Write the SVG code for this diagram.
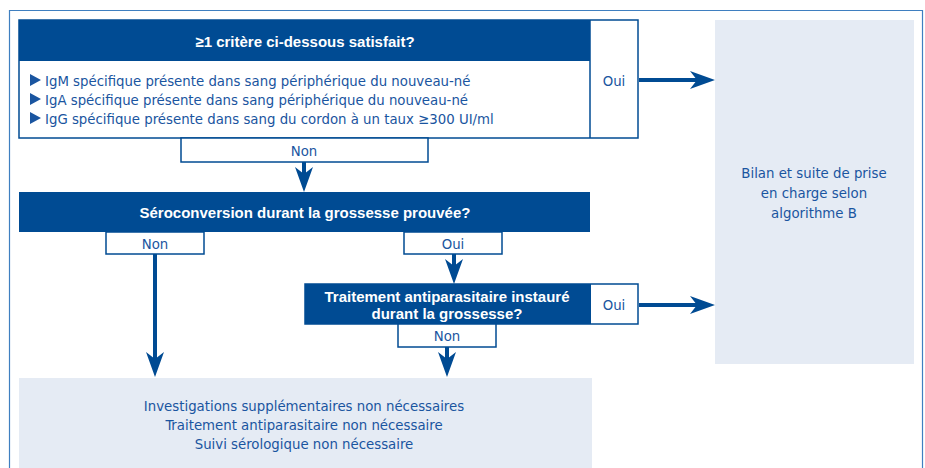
<svg xmlns="http://www.w3.org/2000/svg" width="925" height="468" viewBox="0 0 925 468">
<defs>
<style>
.frame{fill:none;stroke:#3f7fc0;stroke-width:1.2}
.hdr{fill:#004b93}
.box{fill:#fff;stroke:#004b93;stroke-width:1.5}
.light{fill:#e5ebf4}
.t{font-family:"Liberation Sans Narrow","DejaVu Sans Condensed","Liberation Sans",sans-serif;font-size:14.8px;fill:#1a55a0}
.tb{font-family:"Liberation Sans",sans-serif;font-size:15px;font-weight:bold;fill:#fff}
.c{text-anchor:middle}
.conn{stroke:#004b93;stroke-width:4;fill:none}
</style>
<marker id="ah" viewBox="0 0 25 18" refX="10" refY="9" markerWidth="25" markerHeight="18" markerUnits="userSpaceOnUse" orient="auto">
<path d="M0,0 L25,9 L0,18 L7,9 Z" fill="#004b93"/>
</marker>
</defs>
<rect x="0" y="0" width="925" height="468" fill="#fff"/>
<path class="frame" d="M9.5,470 V10.5 H922.5 V470"/>

<g id="n1">
<rect class="box" x="19" y="20" width="619" height="118"/>
<rect class="hdr" x="19" y="20" width="571" height="41"/>
<line x1="590" y1="20" x2="590" y2="138" stroke="#004b93" stroke-width="1.5"/>
<text class="tb c" x="305" y="47">≥1 critère ci-dessous satisfait?</text>
<path d="M30,74 L41,80 L30,86 Z M30,93 L41,99 L30,105 Z M30,112 L41,118 L30,124 Z" fill="#1a55a0"/>
<text class="t" x="45" y="86">IgM spécifique présente dans sang périphérique du nouveau-né</text>
<text class="t" x="45" y="105">IgA spécifique présente dans sang périphérique du nouveau-né</text>
<text class="t" x="45" y="124">IgG spécifique présente dans sang du cordon à un taux ≥300 UI/ml</text>
<text class="t c" x="614" y="86">Oui</text>
</g>

<g id="n1non">
<rect class="box" x="181" y="138" width="247" height="24"/>
<text class="t c" x="304" y="156">Non</text>
</g>

<g id="n2">
<rect class="hdr" x="19" y="192" width="571" height="40"/>
<text class="tb c" x="305" y="218">Séroconversion durant la grossesse prouvée?</text>
</g>

<g id="n2non">
<rect class="box" x="106" y="232" width="98" height="22"/>
<text class="t c" x="155" y="249">Non</text>
</g>

<g id="n2oui">
<rect class="box" x="404" y="232" width="98" height="22"/>
<text class="t c" x="453" y="249">Oui</text>
</g>

<g id="n3">
<rect class="box" x="305" y="284" width="333" height="40"/>
<rect class="hdr" x="305" y="284" width="286" height="40"/>
<text class="tb c" x="447" y="302">Traitement antiparasitaire instauré</text>
<text class="tb c" x="447" y="319">durant la grossesse?</text>
<text class="t c" x="614" y="310">Oui</text>
</g>

<g id="n3non">
<rect class="box" x="398" y="324" width="98" height="23"/>
<text class="t c" x="447" y="341">Non</text>
</g>

<g id="n4">
<rect class="light" x="19" y="378" width="573" height="95"/>
<text class="t c" x="304" y="411">Investigations supplémentaires non nécessaires</text>
<text class="t c" x="304" y="430">Traitement antiparasitaire non nécessaire</text>
<text class="t c" x="304" y="449">Suivi sérologique non nécessaire</text>
</g>

<g id="n5">
<rect class="light" x="715" y="20" width="199" height="344"/>
<text class="t c" x="814" y="178">Bilan et suite de prise</text>
<text class="t c" x="814" y="198">en charge selon</text>
<text class="t c" x="814" y="218">algorithme B</text>
</g>

<g id="connectors">
<line class="conn" x1="639" y1="80" x2="700" y2="80" marker-end="url(#ah)"/>
<line class="conn" x1="639" y1="305" x2="700" y2="305" marker-end="url(#ah)"/>
<line class="conn" x1="304" y1="162" x2="304" y2="177" marker-end="url(#ah)"/>
<line class="conn" x1="155" y1="254" x2="155" y2="362" marker-end="url(#ah)"/>
<line class="conn" x1="454" y1="254" x2="454" y2="269" marker-end="url(#ah)"/>
<line class="conn" x1="447" y1="347" x2="447" y2="362" marker-end="url(#ah)"/>
</g>
</svg>
